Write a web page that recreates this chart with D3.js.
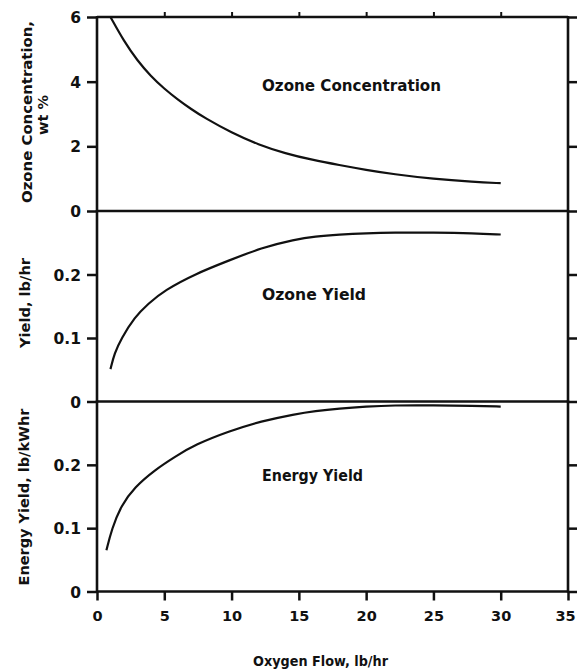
<!DOCTYPE html>
<html><head><meta charset="utf-8">
<script src="https://cdn.jsdelivr.net/npm/d3@7"></script>
<style>
html,body{margin:0;padding:0;background:#fff;}
svg{display:block;}
text{font-family:"DejaVu Sans",sans-serif;font-weight:bold;fill:#111;}
</style></head>
<body>
<svg id="chart" width="577" height="669"></svg>
<script>
// Data
const oxygenFlowTicks = [0, 5, 10, 15, 20, 25, 30, 35];
const concFlow  = [1, 2, 3, 4, 5, 6, 7, 8, 10, 12, 14, 16, 18, 20, 22, 25, 28, 30];
const concValue = [6.0, 5.25, 4.65, 4.17, 3.78, 3.45, 3.15, 2.88, 2.42, 2.05, 1.78, 1.58, 1.42, 1.27, 1.14, 0.99, 0.9, 0.86];
const yieldFlow  = [1, 1.3, 1.8, 2.8, 3.8, 5, 7.3, 9.8, 12.2, 14.7, 16.2, 18, 20, 22, 25, 28, 30];
const yieldValue = [0.051, 0.076, 0.099, 0.133, 0.154, 0.175, 0.201, 0.222, 0.242, 0.255, 0.260, 0.263, 0.265, 0.266, 0.266, 0.265, 0.263];
const energyFlow  = [0.7, 1.1, 1.8, 2.8, 4.3, 5.8, 7.3, 9.8, 12.2, 14.7, 16.2, 18, 20, 22, 25, 28, 30];
const energyValue = [0.065, 0.099, 0.136, 0.165, 0.192, 0.213, 0.232, 0.253, 0.269, 0.280, 0.285, 0.289, 0.292, 0.294, 0.294, 0.293, 0.292];
const concTicks = [0, 2, 4, 6];
const yieldTicks = [0, 0.1, 0.2];
const energyTicks = [0, 0.1, 0.2];

const svg = d3.select("#chart");
const x = d3.scaleLinear().domain([0, 35]).range([97, 568]);
const panels = [
  {name:"Ozone Concentration", flow:concFlow, val:concValue, ticks:concTicks,
   y:d3.scaleLinear().domain([0, 6]).range([211, 17]), labelY:91, labelLen:179,
   fmt:d=>d3.format("d")(d)},
  {name:"Ozone Yield", flow:yieldFlow, val:yieldValue, ticks:yieldTicks,
   y:d3.scaleLinear().domain([0, 0.3]).range([401.5, 211]), labelY:300, labelLen:104,
   fmt:d=>d===0?"0":d3.format(".1f")(d)},
  {name:"Energy Yield", flow:energyFlow, val:energyValue, ticks:energyTicks,
   y:d3.scaleLinear().domain([0, 0.3]).range([591.5, 401.5]), labelY:481, labelLen:101,
   fmt:d=>d===0?"0":d3.format(".1f")(d)}
];

const line = d3.line().curve(d3.curveBasis);

panels.forEach((p, i) => {
  const gl = svg.append("g").attr("transform", `translate(${x(0)},0)`)
    .call(d3.axisLeft(p.y).tickValues(p.ticks)
      .tickSize(10).tickSizeOuter(0).tickPadding(6).tickFormat(p.fmt));
  gl.select(".domain").remove();
  gl.selectAll("line").attr("stroke", "#111").attr("stroke-width", 2.5);
  gl.selectAll("text").attr("font-size", 15.5).attr("dy", "0.36em");

  const gr = svg.append("g").attr("transform", `translate(${x(35)},0)`)
    .call(d3.axisRight(p.y).tickValues(p.ticks).tickSize(9).tickSizeOuter(0).tickFormat(""));
  gr.select(".domain").remove();
  gr.selectAll("line").attr("stroke", "#111").attr("stroke-width", 2.5);

  const [y0, y1] = p.y.range();
  svg.append("line").attr("x1", x(0)).attr("x2", x(0)).attr("y1", y0 + 1).attr("y2", y1 - 1)
    .attr("stroke", "#111").attr("stroke-width", 2.6);
  svg.append("line").attr("x1", x(35)).attr("x2", x(35)).attr("y1", y0 + 1).attr("y2", y1 - 1)
    .attr("stroke", "#111").attr("stroke-width", 2.6);
  svg.append("line").attr("x1", x(0)).attr("x2", x(35)).attr("y1", y0).attr("y2", y0)
    .attr("stroke", "#111").attr("stroke-width", 2.6);
  if (i === 0) svg.append("line").attr("x1", x(0)).attr("x2", x(35)).attr("y1", y1).attr("y2", y1)
    .attr("stroke", "#111").attr("stroke-width", 2.6);

  svg.append("path")
    .attr("d", line(p.flow.map((f, k) => [x(f), p.y(p.val[k])])))
    .attr("fill", "none").attr("stroke", "#111").attr("stroke-width", 2.2);

  svg.append("text").attr("x", 262).attr("y", p.labelY).attr("font-size", 15)
    .attr("textLength", p.labelLen).attr("lengthAdjust", "spacingAndGlyphs").text(p.name);
});

const gt = svg.append("g").attr("transform", `translate(0,${panels[0].y.range()[1]})`)
  .call(d3.axisTop(x).tickValues([5, 10, 15, 20, 25, 30]).tickSize(5).tickSizeOuter(0).tickFormat(""));
gt.select(".domain").remove();
gt.selectAll("line").attr("stroke", "#111").attr("stroke-width", 2);

const gb = svg.append("g").attr("transform", `translate(0,${panels[2].y.range()[0]})`)
  .call(d3.axisBottom(x).tickValues(oxygenFlowTicks).tickSize(9).tickSizeOuter(0).tickPadding(10));
gb.select(".domain").remove();
gb.selectAll("line").attr("stroke", "#111").attr("stroke-width", 2.5);
gb.selectAll("text").attr("font-size", 14.5);
gb.selectAll(".tick").filter(d => d === 35).select("text").attr("dx", -3);

svg.append("text").attr("x", 253).attr("y", 666).attr("font-size", 14.5)
  .attr("textLength", 135).attr("lengthAdjust", "spacingAndGlyphs").text("Oxygen Flow, lb/hr");

function vTitle(txt, cx, cy, len) {
  const t = svg.append("text").attr("transform", `translate(${cx},${cy}) rotate(-90)`)
    .attr("text-anchor", "middle").attr("font-size", 14.5).text(txt);
  if (len) t.attr("textLength", len).attr("lengthAdjust", "spacingAndGlyphs");
}
vTitle("Ozone Concentration,", 32, 112, 182);
vTitle("wt %", 48, 115, 0);
vTitle("Yield, lb/hr", 30, 303, 90);
vTitle("Energy Yield, lb/kWhr", 29, 497, 177);
</script>
</body></html>
